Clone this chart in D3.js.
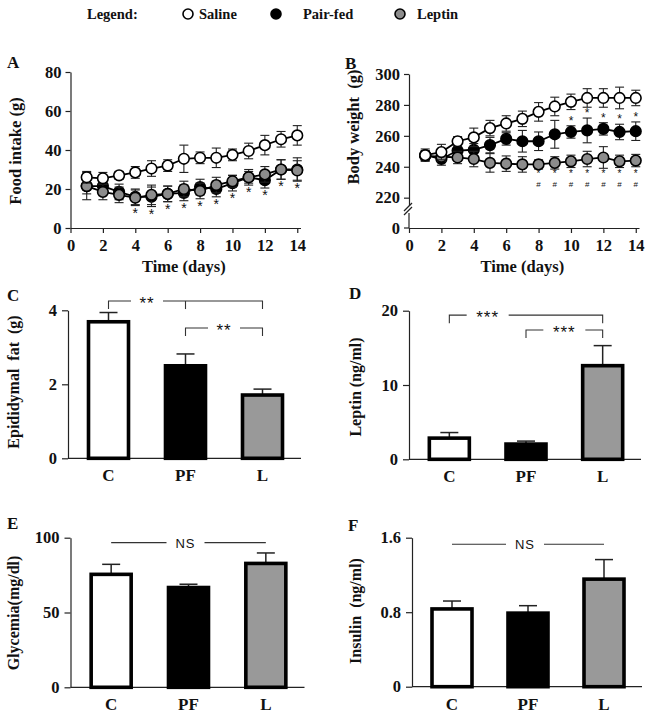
<!DOCTYPE html>
<html>
<head>
<meta charset="utf-8">
<script src="https://cdn.jsdelivr.net/npm/d3@7"></script>
<style>
body { margin: 0; background: #fff; }
text { font-family: "Liberation Serif", "Times New Roman", serif; font-weight: bold; fill: #111; }
text.sig { font-family: "Liberation Sans", Arial, sans-serif; font-weight: normal; }
</style>
</head>
<body>
<svg id="fig" width="652" height="717"></svg>
<script>
// ---- data ----
const days = [1, 2, 3, 4, 5, 6, 7, 8, 9, 10, 11, 12, 13, 14]
const dayTicks = [0, 2, 4, 6, 8, 10, 12, 14]

// A: food intake (g)
const foodSaline = [26, 25.5, 27, 28.5, 30.5, 32, 35.5, 36, 36, 37.5, 39.5, 42.5, 45.5, 47.5]
const foodSalineErr = [3, 3, 2, 3, 4, 3, 7, 3, 5, 3, 4, 5, 4, 5]
const foodPairFed = [21.5, 21.5, 18.5, 16, 16, 17.5, 18, 21, 20, 23, 26, 24.5, 30, 30]
const foodPairFedErr = [4, 4, 4, 4, 5, 4, 4, 4, 4, 4, 4, 4, 5, 6]
const foodLeptin = [21.5, 18.5, 17, 15.5, 17, 17.5, 20, 19, 22, 24, 26, 27.5, 30, 29.5]
const foodLeptinErr = [7, 4, 4, 4, 5, 4, 4, 4, 4, 3, 3, 4, 5, 5]
const foodStarDays = [4, 5, 6, 7, 8, 9, 10, 11, 12, 13, 14]
const foodTicks = [0, 20, 40, 60, 80]

// B: body weight (g)
const bwSaline = [247.5, 249.5, 256.5, 259, 265, 268, 271, 275.5, 279, 282, 284.5, 284.5, 284.5, 284.5]
const bwSalineErr = [4, 5, 3, 6, 5, 5, 5, 6, 6, 5, 6, 6, 7, 5]
const bwPairFed = [247.5, 245, 250.5, 251, 254, 258, 256.5, 256.5, 261, 262.5, 263.5, 264.5, 262.5, 263]
const bwPairFedErr = [3, 4, 4, 4, 5, 4, 7, 6, 9, 4, 8, 4, 5, 6]
const bwLeptin = [247, 246.5, 246, 245, 242.5, 242, 241.5, 241.5, 242.5, 243.5, 245, 246, 243.5, 244]
const bwLeptinErr = [3, 3, 4, 5, 6, 5, 5, 3, 4, 4, 5, 7, 4, 4]
const bwStarDays = [10, 11, 12, 13, 14]
const bwHashDays = [8, 9, 10, 11, 12, 13, 14]
const bwTicks = [220, 240, 260, 280, 300]

// C-F: end-point bars
const groups = ["C", "PF", "L"]
const fatMean = [3.69, 2.5, 1.71]
const fatErr = [0.25, 0.32, 0.16]
const leptinMean = [2.85, 2.05, 12.6]
const leptinErr = [0.75, 0.4, 2.7]
const glyMean = [75.5, 66.7, 82.8]
const glyErr = [6.7, 2.2, 7]
const insMean = [0.835, 0.79, 1.155]
const insErr = [0.085, 0.08, 0.21]

const groupFill = { C: "#ffffff", PF: "#000000", L: "#999999" }

const svg = d3.select("#fig")

// ---- legend ----
const leg = svg.append("g").attr("transform", "translate(0,14)")
leg.append("text").attr("x", 87).attr("y", 5).attr("font-size", 14.5).text("Legend:")
const legItems = [
    { cx: 188, tx: 199, fill: "#fff", label: "Saline" },
    { cx: 276, tx: 303, fill: "#000", label: "Pair-fed" },
    { cx: 400, tx: 417, fill: "#8c8c8c", label: "Leptin" }
]
legItems.forEach(d => {
    leg.append("circle").attr("cx", d.cx).attr("cy", 0).attr("r", 5)
        .attr("fill", d.fill).attr("stroke", "#000").attr("stroke-width", 1.6)
    leg.append("text").attr("x", d.tx).attr("y", 5).attr("font-size", 14.5).text(d.label)
})

function styleAxis(ax, size) {
    ax.attr("font-family", null)
    ax.select(".domain").attr("stroke", "#222").attr("stroke-width", 1.2)
    ax.selectAll(".tick line").attr("stroke", "#222").attr("stroke-width", 1.2)
    ax.selectAll(".tick text").attr("font-size", size).attr("fill", "#111")
}

function panelLetter(x, y, t) {
    svg.append("text").attr("x", x).attr("y", y).attr("font-size", 17).text(t)
}

function yTitle(x, y, t, size) {
    svg.append("text").attr("transform", `translate(${x},${y}) rotate(-90)`)
        .attr("text-anchor", "middle").attr("font-size", size).attr("xml:space", "preserve").text(t)
}

function errBars(g, x, y, xs, ys, es, cap) {
    xs.forEach((xv, i) => {
        const px = x(xv), lo = y(ys[i] - es[i]), hi = y(ys[i] + es[i])
        g.append("line").attr("x1", px).attr("x2", px).attr("y1", lo).attr("y2", hi)
        g.append("line").attr("x1", px - cap).attr("x2", px + cap).attr("y1", hi).attr("y2", hi)
        g.append("line").attr("x1", px - cap).attr("x2", px + cap).attr("y1", lo).attr("y2", lo)
    })
}

function drawSeries(g, x, y, vals, errs, fill) {
    const eb = g.append("g").attr("stroke", "#222").attr("stroke-width", 1.1)
    errBars(eb, x, y, days, vals, errs, 4.5)
    g.append("path").datum(vals)
        .attr("fill", "none").attr("stroke", "#000").attr("stroke-width", 1.8)
        .attr("d", d3.line().x((d, i) => x(days[i])).y(d => y(d)))
    g.selectAll(null).data(vals).join("circle")
        .attr("cx", (d, i) => x(days[i])).attr("cy", d => y(d)).attr("r", 5.3)
        .attr("fill", fill).attr("stroke", "#000").attr("stroke-width", 1.6)
}

// ---- A: food intake ----
{
    const x = d3.scaleLinear().domain([0, 14.2]).range([70.5, 300.5])
    const y = d3.scaleLinear().domain([0, 80]).range([228, 72])
    const g = svg.append("g")
    styleAxis(g.append("g").attr("transform", "translate(0,228)")
        .call(d3.axisBottom(x).tickValues(dayTicks).tickSize(5).tickSizeOuter(0).tickPadding(6)), 16.5)
    styleAxis(g.append("g").attr("transform", "translate(70.5,0)")
        .call(d3.axisLeft(y).tickValues(foodTicks).tickSize(5).tickSizeOuter(0).tickPadding(4)), 16.5)
    drawSeries(g, x, y, foodPairFed, foodPairFedErr, "#000")
    drawSeries(g, x, y, foodLeptin, foodLeptinErr, "#8c8c8c")
    drawSeries(g, x, y, foodSaline, foodSalineErr, "#fff")
    foodStarDays.forEach(dv => {
        const i = days.indexOf(dv)
        const low = Math.min(foodPairFed[i] - foodPairFedErr[i], foodLeptin[i] - foodLeptinErr[i])
        g.append("text").attr("class", "sig").attr("x", x(dv)).attr("y", y(low) + 12)
            .attr("text-anchor", "middle").attr("font-size", 14).text("*")
    })
    g.append("text").attr("x", x(7)).attr("y", 272).attr("text-anchor", "middle")
        .attr("font-size", 16.5).text("Time (days)")
    yTitle(21, 151, "Food intake (g)", 16.5)
    panelLetter(7, 68, "A")
}

// ---- B: body weight ----
{
    const x = d3.scaleLinear().domain([0, 14.2]).range([409, 639])
    const y = d3.scaleLinear().domain([215, 300]).range([205.4, 74])
    const g = svg.append("g")
    styleAxis(g.append("g").attr("transform", "translate(0,228)")
        .call(d3.axisBottom(x).tickValues(dayTicks).tickSize(5).tickSizeOuter(0).tickPadding(6)), 16.5)
    styleAxis(g.append("g").attr("transform", "translate(409,0)")
        .call(d3.axisLeft(y).tickValues(bwTicks).tickSize(5).tickSizeOuter(0).tickPadding(4)), 16.5)
    // broken axis down to zero
    const low = g.append("g").attr("stroke", "#222").attr("stroke-width", 1.2)
    low.append("line").attr("x1", 409).attr("x2", 409).attr("y1", 213).attr("y2", 228)
    low.append("line").attr("x1", 404).attr("x2", 412).attr("y1", 211).attr("y2", 203)
    low.append("line").attr("x1", 404).attr("x2", 412).attr("y1", 215).attr("y2", 207)
    low.append("line").attr("x1", 404).attr("x2", 409).attr("y1", 228).attr("y2", 228)
    g.append("text").attr("x", 400).attr("y", 233.5).attr("text-anchor", "end")
        .attr("font-size", 16.5).text("0")
    drawSeries(g, x, y, bwPairFed, bwPairFedErr, "#000")
    drawSeries(g, x, y, bwLeptin, bwLeptinErr, "#8c8c8c")
    drawSeries(g, x, y, bwSaline, bwSalineErr, "#fff")
    bwStarDays.forEach(dv => {
        const i = days.indexOf(dv)
        g.append("text").attr("class", "sig").attr("x", x(dv))
            .attr("y", y(bwPairFed[i] + bwPairFedErr[i]) - 1)
            .attr("text-anchor", "middle").attr("font-size", 12).text("*")
    })
    // star over hash under the leptin curve
    bwHashDays.forEach(dv => {
        g.append("text").attr("class", "sig").attr("x", x(dv)).attr("y", y(233.5))
            .attr("text-anchor", "middle").attr("font-size", 10).text("*")
        g.append("text").attr("class", "sig").attr("x", x(dv)).attr("y", y(233.5) + 10)
            .attr("text-anchor", "middle").attr("font-size", 8).text("#")
    })
    g.append("text").attr("x", x(7)).attr("y", 272).attr("text-anchor", "middle")
        .attr("font-size", 16.5).text("Time (days)")
    yTitle(359, 127, "Body weight  (g)", 16.5)
    panelLetter(345, 69, "B")
}

// ---- bar panels ----
function barPanel(opt) {
    const x = d3.scalePoint().domain(groups).range(opt.xr).padding(0.5)
    const y = d3.scaleLinear().domain(opt.yd).range(opt.yr)
    const g = svg.append("g")
    const x0 = opt.xr[0] - 2
    g.append("line").attr("x1", x0).attr("x2", opt.xr[1]).attr("y1", opt.yr[0]).attr("y2", opt.yr[0])
        .attr("stroke", "#222").attr("stroke-width", 1.2)
    styleAxis(g.append("g").attr("transform", `translate(${x0},0)`)
        .call(d3.axisLeft(y).tickValues(opt.ticks).tickSize(6).tickSizeOuter(0).tickPadding(5)
            .tickFormat(opt.fmt || d3.format("d"))), 16.5)
    const bw = 40
    const eb = g.append("g").attr("stroke", "#222").attr("stroke-width", 1.5)
    groups.forEach((k, i) => {
        const cx = x(k), top = y(opt.mean[i]), hi = y(opt.mean[i] + opt.err[i])
        eb.append("line").attr("x1", cx).attr("x2", cx).attr("y1", top).attr("y2", hi)
        eb.append("line").attr("x1", cx - 9).attr("x2", cx + 9).attr("y1", hi).attr("y2", hi)
    })
    g.selectAll(null).data(groups).join("rect")
        .attr("x", k => x(k) - bw / 2).attr("width", bw)
        .attr("y", (k, i) => y(opt.mean[i])).attr("height", (k, i) => opt.yr[0] - y(opt.mean[i]))
        .attr("fill", k => groupFill[k]).attr("stroke", "#000").attr("stroke-width", 3.6)
    g.selectAll(null).data(groups).join("text")
        .attr("x", k => x(k)).attr("y", opt.yr[0] + 23).attr("text-anchor", "middle")
        .attr("font-size", 17).text(k => k)

    const sg = g.append("g").attr("stroke", "#333").attr("stroke-width", 1.1)
    ;(opt.brackets || []).forEach(b => {
        const xa = x(b.from), xb = x(b.to), yl = y(b.level), drop = 8
        const tx = b.mid ? (xa + x(b.mid)) / 2 : (xa + xb) / 2
        const half = b.label.length * 5 + 6
        sg.append("path").attr("fill", "none")
            .attr("d", `M${xa},${yl + drop}V${yl}H${tx - half}M${tx + half},${yl}H${xb}V${yl + drop}`)
        if (b.tick) sg.append("line").attr("x1", x(b.tick)).attr("x2", x(b.tick))
            .attr("y1", yl).attr("y2", yl + drop)
        g.append("text").attr("class", "sig").attr("x", tx).attr("y", yl + 8)
            .attr("text-anchor", "middle").attr("font-size", 17).attr("letter-spacing", 1).text(b.label)
    })
    if (opt.ns) {
        const xa = x("C"), xb = x("L"), yl = y(opt.ns), tx = x("PF") - 3
        sg.append("path").attr("fill", "none")
            .attr("d", `M${xa},${yl}H${tx - 19}M${tx + 19},${yl}H${xb}`)
        g.append("text").attr("class", "sig").attr("x", tx).attr("y", yl + 5)
            .attr("text-anchor", "middle").attr("font-size", 13).attr("letter-spacing", 1).text("NS")
    }
    yTitle(opt.tx, opt.ty, opt.title, 16)
    panelLetter(opt.lx, opt.ly, opt.letter)
}

barPanel({
    xr: [70, 301], yd: [0, 4], yr: [458.3, 310.3], ticks: [0, 2, 4],
    mean: fatMean, err: fatErr,
    brackets: [
        { from: "C", to: "L", mid: "PF", tick: "PF", level: 4.25, label: "**" },
        { from: "PF", to: "L", level: 3.52, label: "**" }
    ],
    title: "Epididymal  fat  (g)", tx: 19, ty: 382, letter: "C", lx: 7, ly: 301
})
barPanel({
    xr: [411, 641], yd: [0, 20], yr: [459.3, 310.7], ticks: [0, 10, 20],
    mean: leptinMean, err: leptinErr,
    brackets: [
        { from: "C", to: "L", mid: "PF", level: 19.4, label: "***" },
        { from: "PF", to: "L", level: 17.4, label: "***" }
    ],
    title: "Leptin (ng/ml)", tx: 361, ty: 387, letter: "D", lx: 349, ly: 299
})
barPanel({
    xr: [72.5, 304.5], yd: [0, 100], yr: [687.3, 537.7], ticks: [0, 50, 100],
    mean: glyMean, err: glyErr, ns: 96.7,
    title: "Glycemia(mg/dl)", tx: 19, ty: 613, letter: "E", lx: 7, ly: 529
})
barPanel({
    xr: [414, 642], yd: [0, 1.6], yr: [686.7, 537.7], ticks: [0, 0.8, 1.6],
    fmt: d => d === 0 ? "0" : d3.format(".1f")(d),
    mean: insMean, err: insErr, ns: 1.53,
    title: "Insulin  (ng/ml)", tx: 361, ty: 611, letter: "F", lx: 348, ly: 531
})
</script>
</body>
</html>
